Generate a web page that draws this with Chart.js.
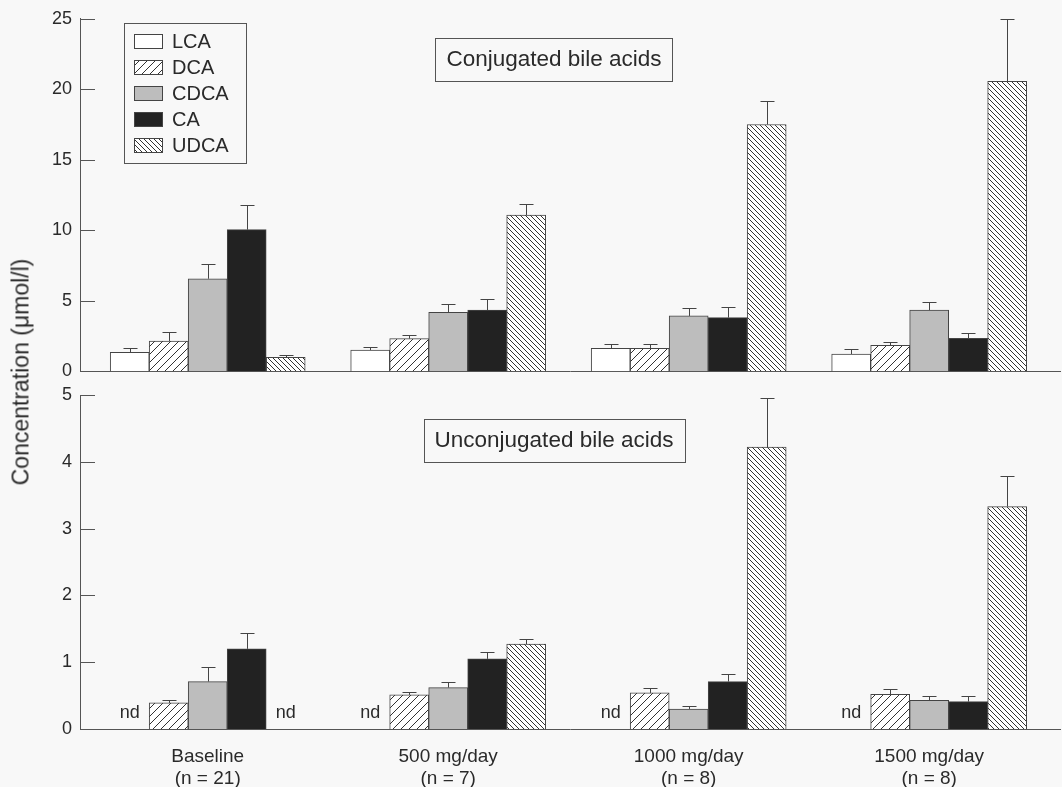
<!DOCTYPE html>
<html>
<head>
<meta charset="utf-8">
<script src="https://cdn.jsdelivr.net/npm/chart.js@4"></script>
<style>
  html, body { margin: 0; padding: 0; background: #f8f8f8; }
  #wrap { position: relative; width: 1062px; height: 787px; overflow: hidden; }
  #top { position: absolute; left: 0; top: 0; }
  #bottom { position: absolute; left: 0; top: 370px; }
  #ytitle {
    position: absolute; left: 21px; top: 372px;
    transform: translate(-50%, -50%) rotate(-90deg);
    font: 23px "Liberation Sans", Arial, sans-serif; color: #2a2a2a; white-space: nowrap;
  }
</style>
</head>
<body>
<div id="wrap">
  <canvas id="top" width="1062" height="390"></canvas>
  <canvas id="bottom" width="1062" height="417"></canvas>
  <div id="ytitle">Concentration (μmol/l)</div>
</div>
<script>
const acidNames = ["LCA", "DCA", "CDCA", "CA", "UDCA"];
const doseGroups = [["Baseline", "(n = 21)"], ["500 mg/day", "(n = 7)"], ["1000 mg/day", "(n = 8)"], ["1500 mg/day", "(n = 8)"]];

// conjugated bile acids, mean and SEM (µmol/l)
const conjLCA = [1.34, 1.50, 1.62, 1.22];
const conjDCA = [2.14, 2.31, 1.62, 1.84];
const conjCDCA = [6.56, 4.17, 3.92, 4.33];
const conjCA = [10.04, 4.33, 3.80, 2.33];
const conjUDCA = [0.99, 11.08, 17.50, 20.56];
const conjLCASem = [0.28, 0.25, 0.31, 0.33];
const conjDCASem = [0.65, 0.27, 0.31, 0.23];
const conjCDCASem = [1.02, 0.57, 0.57, 0.55];
const conjCASem = [1.77, 0.78, 0.74, 0.36];
const conjUDCASem = [0.18, 0.80, 1.70, 4.42];

// unconjugated bile acids (null = nd)
const unconjLCA = [null, null, null, null];
const unconjDCA = [0.39, 0.51, 0.54, 0.52];
const unconjCDCA = [0.71, 0.62, 0.30, 0.43];
const unconjCA = [1.20, 1.05, 0.71, 0.41];
const unconjUDCA = [null, 1.27, 4.22, 3.33];
const unconjLCASem = [null, null, null, null];
const unconjDCASem = [0.05, 0.05, 0.07, 0.08];
const unconjCDCASem = [0.22, 0.09, 0.05, 0.07];
const unconjCASem = [0.23, 0.10, 0.11, 0.08];
const unconjUDCASem = [null, 0.08, 0.73, 0.45];

const conjTicks = [0, 5, 10, 15, 20, 25];
const unconjTicks = [0, 1, 2, 3, 4, 5];

const FONT = '"Liberation Sans", Arial, sans-serif';
const TEXT = '#2a2a2a';
const LINE = '#555';

// hatch tile: dir 1 = "/", dir -1 = "\"
function hatch(ctx, size, dir) {
  const c = document.createElement('canvas');
  c.width = c.height = size;
  const g = c.getContext('2d');
  g.fillStyle = '#fff';
  g.fillRect(0, 0, size, size);
  g.strokeStyle = '#333';
  g.lineWidth = 1;
  g.beginPath();
  if (dir > 0) {
    g.moveTo(0, size); g.lineTo(size, 0);
    g.moveTo(-1, 1); g.lineTo(1, -1);
    g.moveTo(size - 1, size + 1); g.lineTo(size + 1, size - 1);
  } else {
    g.moveTo(0, 0); g.lineTo(size, size);
    g.moveTo(size - 1, -1); g.lineTo(size + 1, 1);
    g.moveTo(-1, size - 1); g.lineTo(1, size + 1);
  }
  g.stroke();
  return ctx.createPattern(c, 'repeat');
}

function acidFills(ctx) {
  return ['#ffffff', hatch(ctx, 8, 1), '#bdbdbd', '#222222', hatch(ctx, 5, -1)];
}

const errorBarPlugin = {
  id: 'errorBars',
  afterDatasetsDraw(chart, args, opts) {
    const ctx = chart.ctx;
    const y = chart.scales.y;
    ctx.save();
    ctx.strokeStyle = '#444';
    ctx.lineWidth = 1;
    opts.sem.forEach((sem, d) => {
      const meta = chart.getDatasetMeta(d);
      meta.data.forEach((bar, i) => {
        const v = chart.data.datasets[d].data[i].y;
        if (v == null || sem[i] == null) return;
        const x = Math.round(bar.x) + 0.5;
        const y0 = y.getPixelForValue(v);
        const y1 = Math.round(y.getPixelForValue(v + sem[i])) + 0.5;
        ctx.beginPath();
        ctx.moveTo(x, y0); ctx.lineTo(x, y1);
        ctx.moveTo(x - 7, y1); ctx.lineTo(x + 7, y1);
        ctx.stroke();
      });
    });
    ctx.restore();
  }
};

// "nd" where nothing was detected
const ndPlugin = {
  id: 'ndLabels',
  afterDatasetsDraw(chart) {
    const ctx = chart.ctx;
    const y0 = chart.scales.y.getPixelForValue(0);
    ctx.save();
    ctx.fillStyle = TEXT;
    ctx.font = '18px ' + FONT;
    ctx.textAlign = 'center';
    ctx.textBaseline = 'middle';
    chart.data.datasets.forEach((ds, d) => {
      chart.getDatasetMeta(d).data.forEach((bar, i) => {
        if (ds.data[i].y == null) ctx.fillText('nd', bar.x, y0 - 16);
      });
    });
    ctx.restore();
  }
};

// tick marks pointing into the plot
const innerTicksPlugin = {
  id: 'innerTicks',
  afterDraw(chart) {
    const ctx = chart.ctx;
    const y = chart.scales.y;
    const left = chart.chartArea.left;
    ctx.save();
    ctx.strokeStyle = LINE;
    ctx.lineWidth = 1;
    y.ticks.forEach(t => {
      const py = Math.round(y.getPixelForValue(t.value)) + 0.5;
      ctx.beginPath();
      ctx.moveTo(left, py); ctx.lineTo(left + 15, py);
      ctx.stroke();
    });
    ctx.restore();
  }
};

const titleBoxPlugin = {
  id: 'titleBox',
  afterDraw(chart, args, opts) {
    const ctx = chart.ctx;
    const cx = chart.chartArea.left + opts.dx;
    const cy = opts.cy;
    ctx.save();
    ctx.font = '22.5px ' + FONT;
    const w = ctx.measureText(opts.text).width + 22;
    const h = 43;
    ctx.strokeStyle = LINE;
    ctx.lineWidth = 1;
    ctx.strokeRect(Math.round(cx - w / 2) + 0.5, Math.round(cy - h / 2) + 0.5, Math.round(w), h);
    ctx.fillStyle = TEXT;
    ctx.textAlign = 'center';
    ctx.textBaseline = 'middle';
    ctx.fillText(opts.text, cx, cy + 1);
    ctx.restore();
  }
};

const boxLegendPlugin = {
  id: 'boxLegend',
  afterDraw(chart, args, opts) {
    if (!opts.show) return;
    const ctx = chart.ctx;
    const x0 = chart.chartArea.left + 44;
    const y0 = 23;
    ctx.save();
    ctx.strokeStyle = LINE;
    ctx.lineWidth = 1;
    ctx.strokeRect(x0 + 0.5, y0 + 0.5, 122, 140);
    ctx.font = '20px ' + FONT;
    ctx.textBaseline = 'middle';
    chart.data.datasets.forEach((ds, i) => {
      const cy = y0 + 18 + i * 26;
      ctx.fillStyle = ds.backgroundColor;
      ctx.fillRect(x0 + 10, cy - 7, 29, 15);
      ctx.strokeStyle = '#444';
      ctx.strokeRect(x0 + 10.5, cy - 6.5, 28, 14);
      ctx.fillStyle = TEXT;
      ctx.fillText(ds.label, x0 + 48, cy + 1);
    });
    ctx.restore();
  }
};

function makeChart(canvasId, means, sems, ticks, showX, legend, title, titleY, padTop, padBottom, xHeight) {
  const ctx = document.getElementById(canvasId).getContext('2d');
  const fills = acidFills(ctx);
  return new Chart(ctx, {
    type: 'bar',
    data: {
      datasets: acidNames.map((name, k) => ({
        label: name,
        data: means[k].map((v, i) => ({ x: i, y: v })),
        backgroundColor: fills[k],
        borderColor: '#444',
        borderWidth: 1,
        barThickness: 39
      }))
    },
    options: {
      responsive: false,
      animation: false,
      events: [],
      layout: { padding: { left: 0, right: 2, top: padTop, bottom: padBottom } },
      scales: {
        x: {
          type: 'linear',
          min: -0.531,
          max: 3.544,
          offset: false,
          grid: { display: false, drawTicks: false },
          border: { display: true, color: LINE, width: 1 },
          afterBuildTicks: s => { s.ticks = doseGroups.map((g, i) => ({ value: i })); },
          afterFit: s => { s.height = xHeight; },
          ticks: {
            display: showX,
            autoSkip: false,
            maxRotation: 0,
            padding: 17,
            color: TEXT,
            font: { family: FONT, size: 19, lineHeight: 1.15 },
            callback: v => doseGroups[v]
          }
        },
        y: {
          min: ticks[0],
          max: ticks[ticks.length - 1],
          grid: { display: false, drawTicks: false },
          border: { display: true, color: LINE, width: 1 },
          afterFit: s => { s.width = 80; },
          ticks: {
            stepSize: ticks[1] - ticks[0],
            padding: 8,
            color: TEXT,
            font: { family: FONT, size: 18 }
          }
        }
      },
      plugins: {
        legend: { display: false },
        tooltip: { enabled: false },
        errorBars: { sem: sems },
        boxLegend: { show: legend },
        titleBox: { text: title, dx: 474, cy: titleY }
      }
    },
    plugins: [errorBarPlugin, ndPlugin, innerTicksPlugin, titleBoxPlugin, boxLegendPlugin]
  });
}

makeChart('top',
  [conjLCA, conjDCA, conjCDCA, conjCA, conjUDCA],
  [conjLCASem, conjDCASem, conjCDCASem, conjCASem, conjUDCASem],
  conjTicks, false, true, 'Conjugated bile acids', 59, 16, 12, 0);

makeChart('bottom',
  [unconjLCA, unconjDCA, unconjCDCA, unconjCA, unconjUDCA],
  [unconjLCASem, unconjDCASem, unconjCDCASem, unconjCASem, unconjUDCASem],
  unconjTicks, true, false, 'Unconjugated bile acids', 70, 25, 0, 58);
</script>
</body>
</html>
